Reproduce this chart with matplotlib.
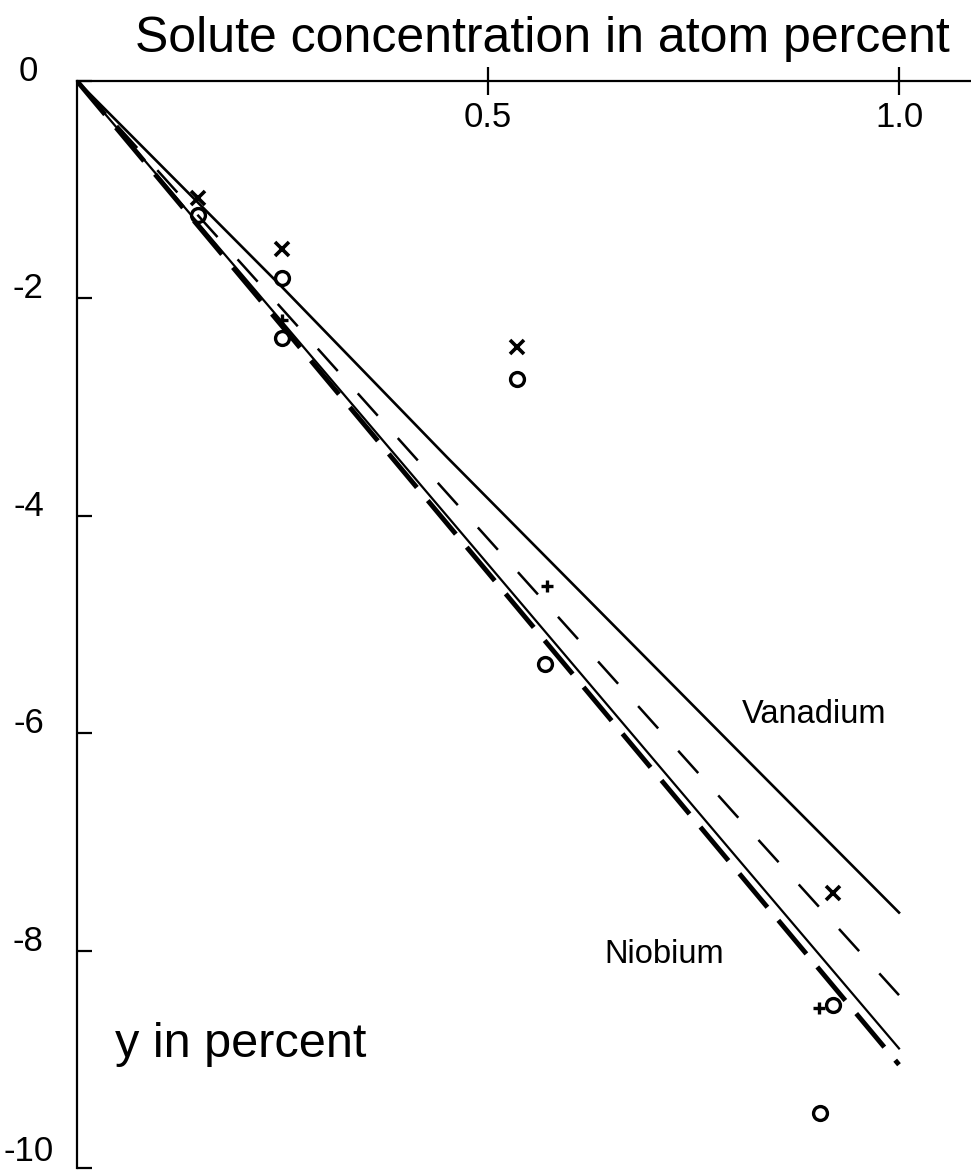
import matplotlib
matplotlib.use("Agg")
import matplotlib.pyplot as plt

plt.rcParams['font.family'] = ['Liberation Sans', 'DejaVu Sans']
plt.rcParams['axes.unicode_minus'] = False

# theory curves (solute conc. in at.% vs y in percent)
vanadium_x = [0, 0.25, 0.45, 0.8, 1.0]
vanadium_solid = [0, -1.90, -3.46, -6.13, -7.65]
vanadium_dash = [0, -2.10, -3.79, -6.74, -8.41]
niobium_x = [0, 0.25, 0.45, 0.8, 1.0]
niobium_solid = [0, -2.22, -4.00, -7.12, -8.90]
niobium_dash = [0, -2.26, -4.07, -7.24, -9.05]

# measured points
x_pts_x = [0.147, 0.249, 0.535, 0.920]
x_pts_y = [-1.08, -1.55, -2.45, -7.47]
o_pts_x = [0.147, 0.249, 0.249, 0.535, 0.569, 0.920, 0.904]
o_pts_y = [-1.23, -1.81, -2.36, -2.74, -5.36, -8.50, -9.49]
p_pts_x = [0.249, 0.572, 0.903]
p_pts_y = [-2.20, -4.65, -8.53]

xticks = [0.5, 1.0]
xticklabels = ['0.5', '1.0']
yticks = [0, -2, -4, -6, -8, -10]
yticklabels = ['0', '-2', '-4', '-6', '-8', '-10']

fig = plt.figure(figsize=(9.71, 11.71), dpi=100)
ax = fig.add_axes([77/971, 3/1171, (971-77)/971, (1168-81)/1171])

ax.plot(vanadium_x, vanadium_solid, color='black', lw=1.9)
ax.plot(vanadium_x, vanadium_dash, color='black', lw=1.8, linestyle=(0, (12, 12)))
ax.plot(niobium_x, niobium_solid, color='black', lw=1.6)
ax.plot(niobium_x, niobium_dash, color='black', lw=3.5, linestyle=(0, (9, 3.5)))

ax.plot(x_pts_x, x_pts_y, 'x', color='black', ms=10, mew=2.6, ls='none')
ax.plot(o_pts_x, o_pts_y, 'o', mfc='none', mec='black', ms=10, mew=2.4, ls='none')
ax.plot(p_pts_x, p_pts_y, '+', color='black', ms=9, mew=2.4, ls='none')

ax.set_xlim(0, (971-77)/822)
ax.set_ylim(-10, 0)

ax.spines['right'].set_visible(False)
ax.spines['bottom'].set_visible(False)
ax.spines['left'].set_linewidth(1.6)
ax.spines['top'].set_linewidth(1.6)

ax.set_xticks(xticks)
ax.set_xticklabels(xticklabels)
ax.tick_params(axis='x', top=True, bottom=False, labeltop=True, labelbottom=False,
               direction='inout', length=20, width=1.6, pad=-48, labelsize=25)
ax.set_yticks(yticks)
ax.set_yticklabels(yticklabels)
ax.tick_params(axis='y', direction='in', length=11, width=1.6, pad=35, labelsize=25)
for lab in ax.get_yticklabels():
    lab.set_ha('center')
    lab.set_va('baseline')
ax.get_yticklabels()[-1].set_va('bottom')

ax.text(0.809, -5.91, 'Vanadium', fontsize=23.5, va='baseline')
ax.text(0.642, -8.11, 'Niobium', fontsize=23.5, va='baseline')
ax.text(0.046, -8.98, 'y in percent', fontsize=35, va='baseline')

fig.text(542/971, 1 - 52/1171, 'Solute concentration in atom percent',
         fontsize=36, ha='center', va='baseline')

fig.savefig('out.png', dpi=100)
